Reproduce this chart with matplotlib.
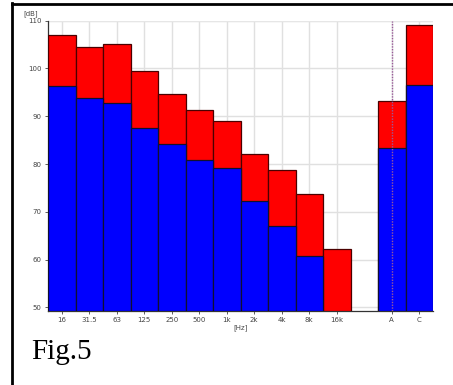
import matplotlib
matplotlib.use("Agg")
import matplotlib.pyplot as plt
from matplotlib.lines import Line2D

bands = ["16", "31.5", "63", "125", "250", "500", "1k", "2k", "4k", "8k", "16k", "", "A", "C"]
red_vals = [107.0, 104.4, 105.1, 99.4, 94.6, 91.4, 89.1, 82.2, 78.7, 73.7, 62.15, None, 93.2, 109.1]
blue_vals = [96.3, 93.75, 92.7, 87.6, 84.2, 80.9, 79.1, 72.2, 67.1, 60.7, None, None, 83.4, 96.5]
yticks = [50, 60, 70, 80, 90, 100, 110]
base = 49.3

fig = plt.figure(figsize=(4.53, 3.85), dpi=100)
ax = fig.add_axes([48/453, 1-310.7/385, (433-48)/453, 290/385])

xs = list(range(len(bands)))
for x, r, b in zip(xs, red_vals, blue_vals):
    if r is not None:
        ax.bar(x, r - base, bottom=base, width=1.0, color="#ff0000",
               edgecolor="#4a0000", linewidth=0.9, zorder=3)
    if b is not None:
        ax.bar(x, b - base, bottom=base, width=1.0, color="#0000ff",
               edgecolor="#101030", linewidth=0.9, zorder=4)

ax.set_xlim(-0.5, len(bands) - 0.5)
ax.set_ylim(base, 110)
ax.set_yticks(yticks)
ax.set_yticklabels([str(v) for v in yticks])
tick_pos = [i for i, l in enumerate(bands) if l]
ax.set_xticks(tick_pos)
ax.set_xticklabels([bands[i] for i in tick_pos])
ax.tick_params(axis="both", labelsize=5, colors="#444444", length=2.5, width=0.6, pad=2)
ax.grid(True, color="#e0e0e0", linewidth=1.0, zorder=0)
ax.set_axisbelow(True)
for s in ["top", "right"]:
    ax.spines[s].set_visible(False)
for s in ["left", "bottom"]:
    ax.spines[s].set_color("#333333")
    ax.spines[s].set_linewidth(0.9)
ax.axhline(110, color="#e6e6e6", linewidth=1.5, zorder=1)

# dotted marker line at A
ax.axvline(12, color="#9a5a9a", linestyle=(0, (1, 1)), linewidth=1.0, zorder=5)

ax.set_xlabel("[Hz]", fontsize=5, color="#444444", labelpad=1)
fig.text(31/453, 1-14/385, "[dB]", fontsize=5, color="#444444", ha="center", va="center")

fig.text(31/453, 1-352/385, "Fig.5", fontsize=21, family="Liberation Serif",
         ha="left", va="center", color="black")

# outer frame lines
fig.add_artist(Line2D([11.5/453, 11.5/453], [0, 1-3/385], transform=fig.transFigure,
                      color="black", linewidth=2))
fig.add_artist(Line2D([11.5/453, 1], [1-3.5/385, 1-3.5/385], transform=fig.transFigure,
                      color="black", linewidth=2))

fig.savefig("out.png", dpi=100)
